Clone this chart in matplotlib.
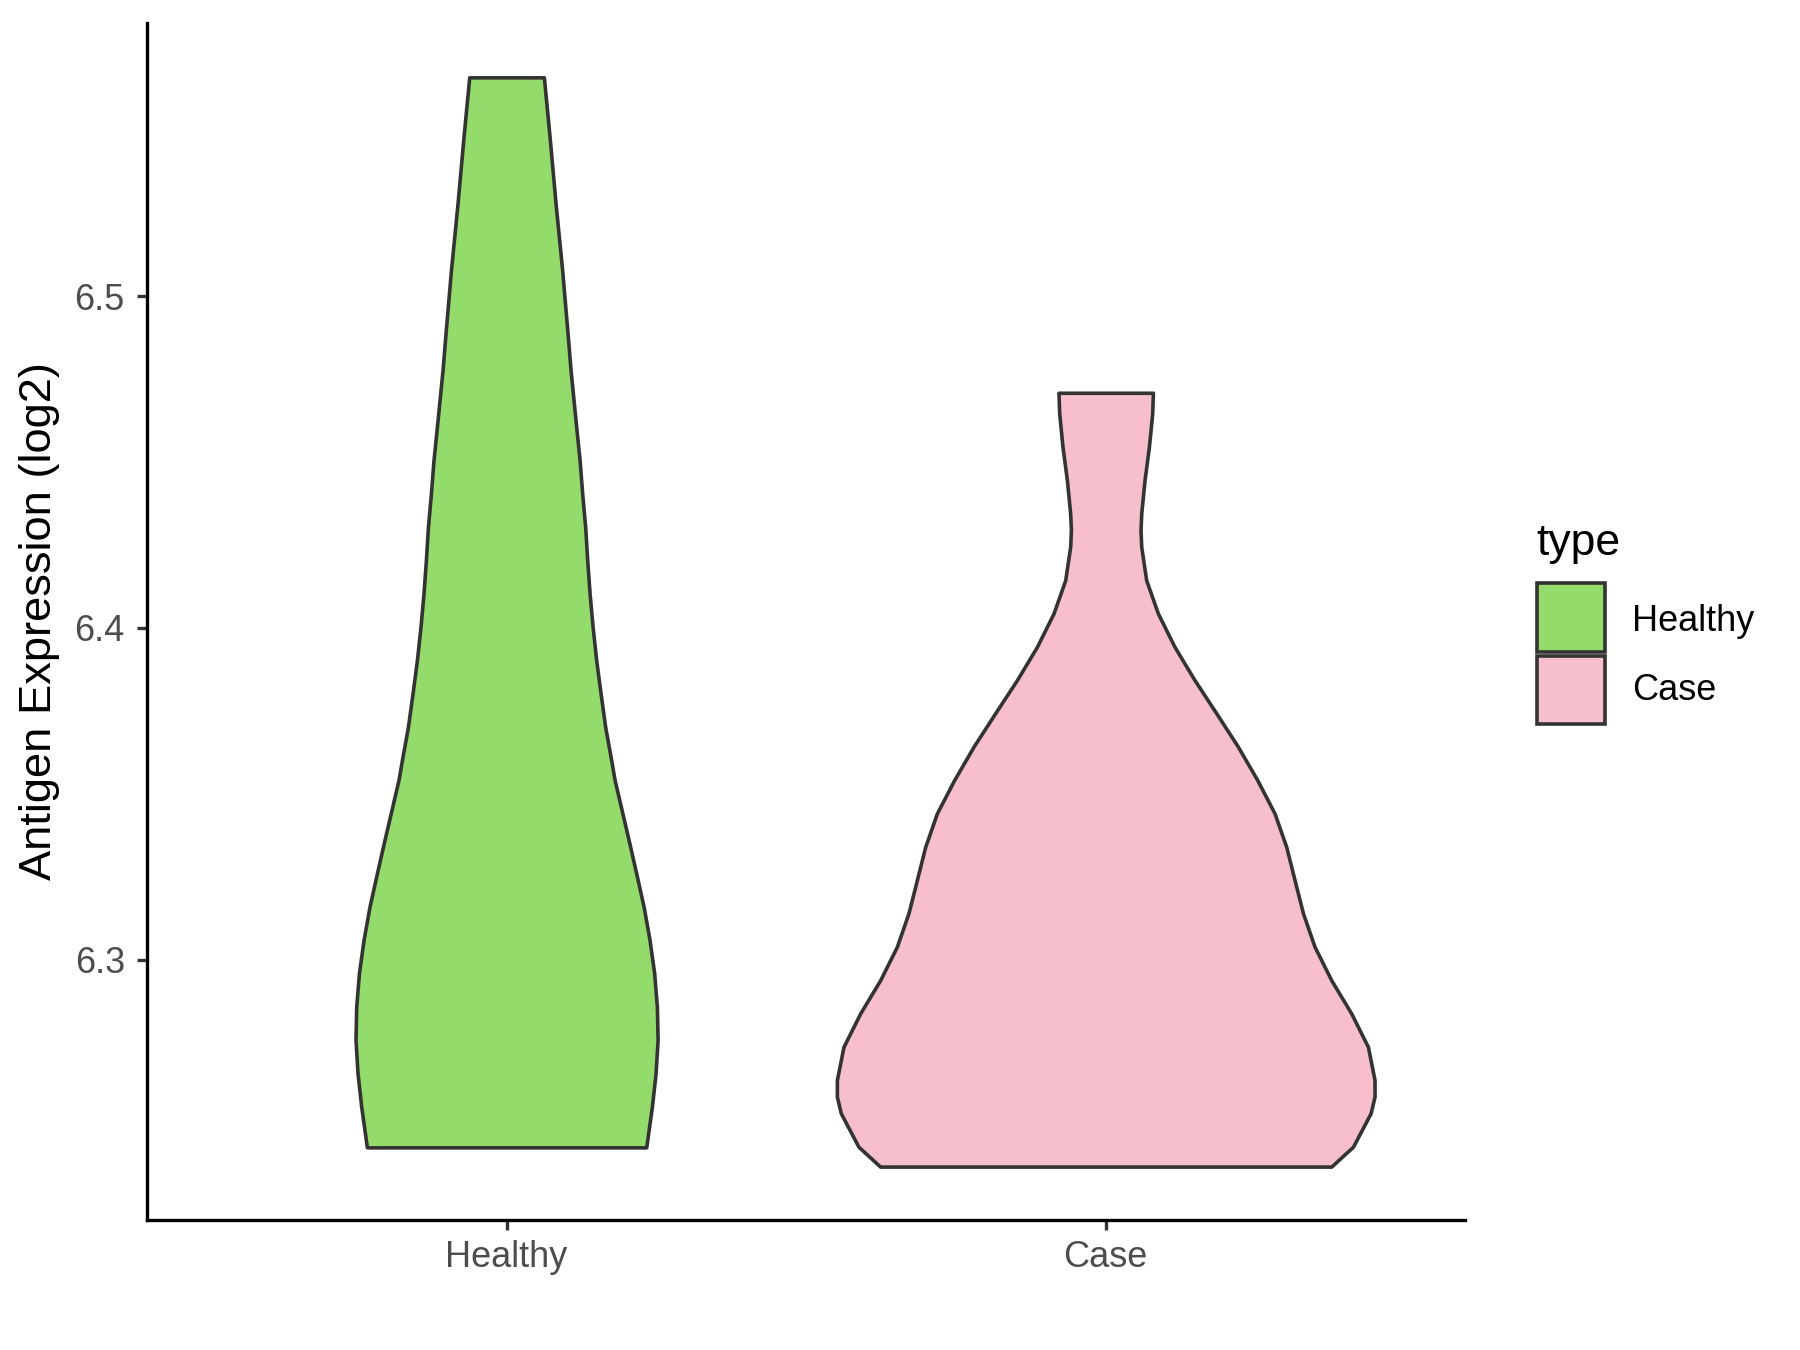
import numpy as np
import matplotlib.pyplot as plt
from matplotlib.patches import Rectangle

plt.rcParams['font.family'] = ['Liberation Sans', 'DejaVu Sans']

# categories and colours
groups = ['Healthy', 'Case']
colors = ['#93DB6A', '#F7BFCB']

# violin outlines: expression value -> half width (category units)
healthy_y = [6.5660, 6.5481, 6.5280, 6.5079, 6.4878, 6.4778, 6.4607, 6.4506,
             6.4406, 6.4305, 6.4205, 6.4104, 6.4004, 6.3903, 6.3803, 6.3702,
             6.3602, 6.3542, 6.3361, 6.3260, 6.3160, 6.3059, 6.2959,
             6.2858, 6.2758, 6.2657, 6.2557, 6.2434]
healthy_hw = [0.0623, 0.0718, 0.0818, 0.0928, 0.1023, 0.1068, 0.1162, 0.1219,
              0.1262, 0.1312, 0.1346, 0.1386, 0.1436, 0.1496, 0.1569, 0.1646,
              0.1746, 0.1803, 0.2037, 0.2164, 0.2287, 0.2387, 0.2464,
              0.2509, 0.2521, 0.2487, 0.2426, 0.2331]

case_y = [6.4709, 6.4647, 6.4546, 6.4446, 6.4345, 6.4295, 6.4245, 6.4144,
          6.4044, 6.3943, 6.3843, 6.3743, 6.3642, 6.3541, 6.3441, 6.3340,
          6.3240, 6.3140, 6.3039, 6.2938, 6.2838, 6.2737, 6.2637, 6.2587,
          6.2537, 6.2436, 6.2376]
case_hw = [0.0788, 0.0776, 0.0721, 0.0648, 0.0593, 0.0581, 0.0593, 0.0676,
           0.0871, 0.1149, 0.1482, 0.1845, 0.2207, 0.2531, 0.2818, 0.3013,
           0.3152, 0.3292, 0.3486, 0.3765, 0.4098, 0.4377, 0.4487, 0.4487,
           0.4421, 0.4127, 0.3765]

yticks = [6.3, 6.4, 6.5]

edge = '#333333'

fig = plt.figure(figsize=(9, 6.75), dpi=200)
ax = fig.add_axes([0.0817, 0.0963, 0.7323, 0.8867])

profiles = [(healthy_y, healthy_hw), (case_y, case_hw)]
for i, (ys, hw) in enumerate(profiles):
    ys = np.array(ys)
    hw = np.array(hw)
    pos = i + 1
    ax.fill_betweenx(ys, pos - hw, pos + hw, facecolor=colors[i],
                     edgecolor=edge, linewidth=1.3, joinstyle='round')

ax.set_xlim(0.4, 2.6)
ax.set_ylim(6.2215, 6.5824)
ax.set_xticks([1, 2])
ax.set_xticklabels(groups)
ax.set_yticks(yticks)
ax.set_yticklabels([f'{v:.1f}' for v in yticks])

for side in ['top', 'right']:
    ax.spines[side].set_visible(False)
for side in ['left', 'bottom']:
    ax.spines[side].set_linewidth(1.2)
    ax.spines[side].set_color('black')

ax.tick_params(axis='both', length=3.6, width=1.2, color='#333333',
               labelsize=13, labelcolor='#4D4D4D')
ax.tick_params(axis='x', pad=3.6)
ax.tick_params(axis='y', pad=4.4)

fig.text(0.0222, 0.5396, 'Antigen Expression (log2)', rotation=90,
         ha='center', va='center', fontsize=16.3, color='black')

# legend drawn by hand
fig.text(0.8533, 0.5889, 'type', fontsize=16, va='baseline', ha='left')
box_w, box_h = 0.0378, 0.0505
box_bottoms = [0.5173, 0.4637]
label_y = [0.5395, 0.4884]
for i in range(len(groups)):
    fig.add_artist(Rectangle((0.8537, box_bottoms[i]), box_w, box_h,
                             transform=fig.transFigure, facecolor=colors[i],
                             edgecolor=edge, linewidth=1.3))
    fig.text(0.9065, label_y[i], groups[i], fontsize=13, va='center', ha='left')

fig.savefig('out.png', dpi=200)
